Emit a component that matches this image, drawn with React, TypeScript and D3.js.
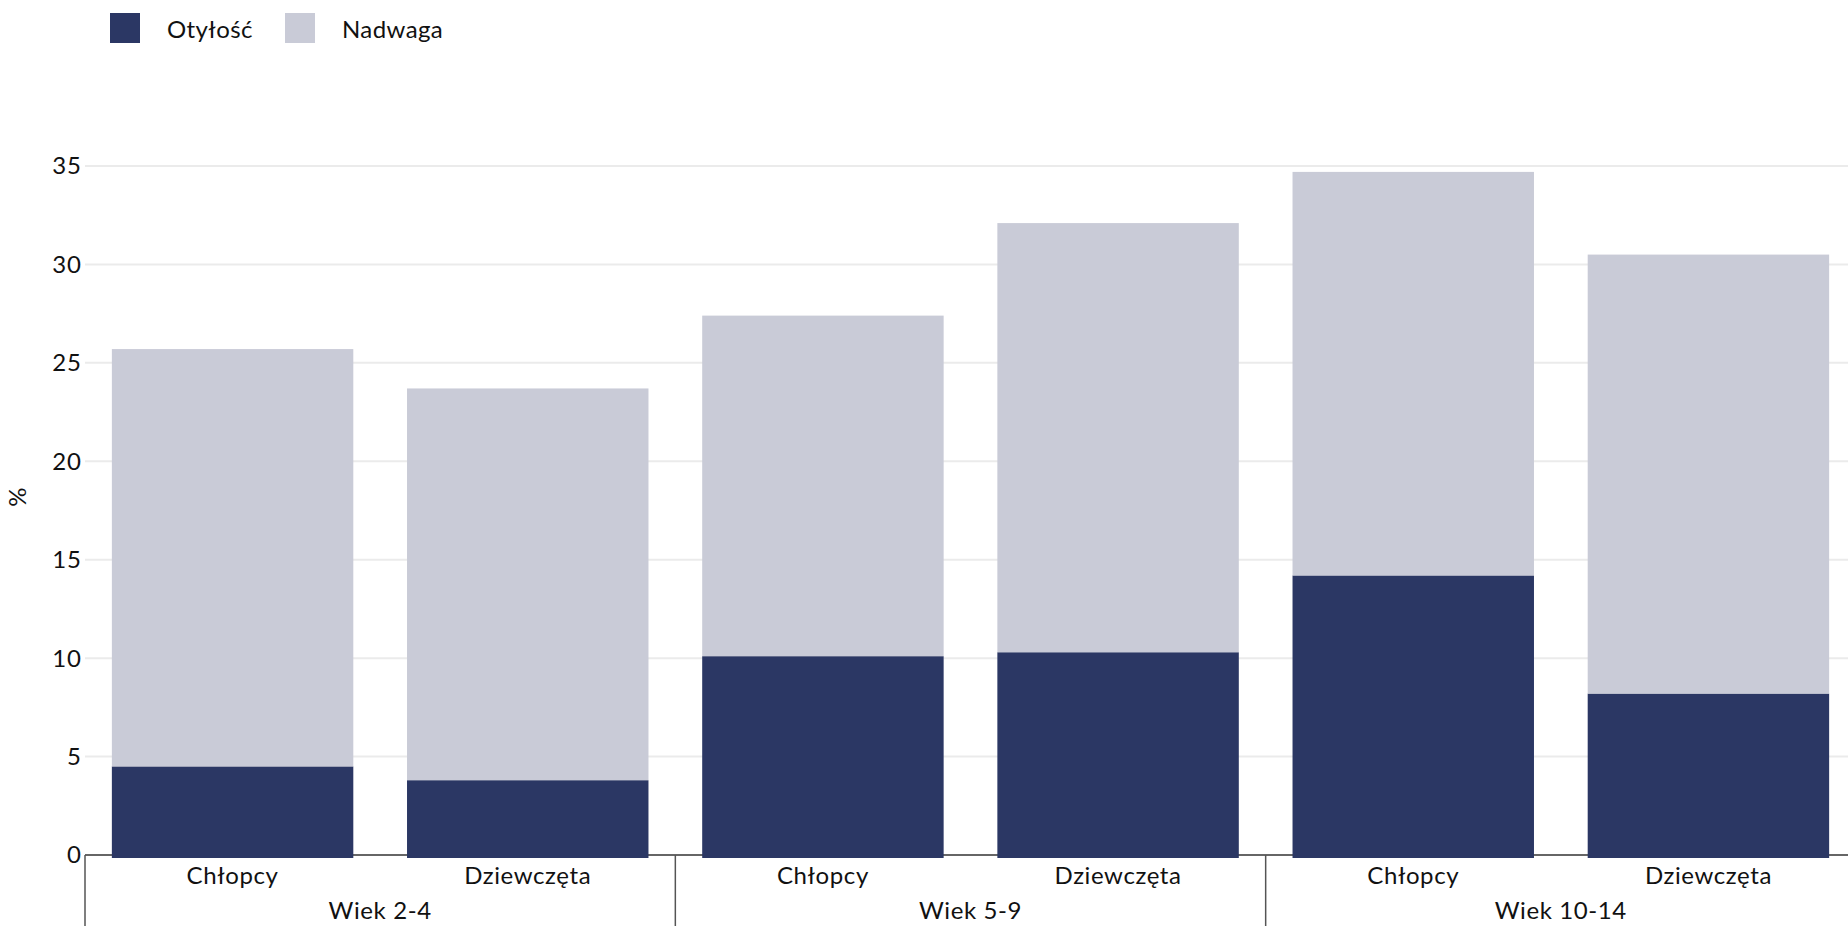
import * as d3 from "d3";
import React from "react";

const groups = ["Wiek 2-4", "Wiek 5-9", "Wiek 10-14"];
const sexes = ["Chłopcy", "Dziewczęta"];
const seriesNames = ["Otyłość", "Nadwaga"];
const seriesColors = ["#2b3764", "#c9cbd7"];
// per bar, in order: group x sex
const otylosc = [4.5, 3.8, 10.1, 10.3, 14.2, 8.2];
const nadwaga = [21.2, 19.9, 17.3, 21.8, 20.5, 22.3];
const yTicks = [0, 5, 10, 15, 20, 25, 30, 35];

const W = 1848;
const H = 931;
const margin = { left: 85, right: -8, top: 166, bottom: 76 };
const FONT = "Lato, 'Open Sans', sans-serif";
const FS = 24;

export default function App() {
  const bars = groups.flatMap((g, gi) =>
    sexes.map((s, si) => ({ key: `${g}|${s}`, group: g, sex: s, i: gi * sexes.length + si }))
  );

  const x = d3
    .scaleBand<string>()
    .domain(bars.map((b) => b.key))
    .range([margin.left, W - margin.right])
    .paddingInner(0.182)
    .paddingOuter(0.091);

  const y = d3
    .scaleLinear()
    .domain([0, 35])
    .range([H - margin.bottom, margin.top]);

  const stackData = bars.map((b) => ({ key: b.key, Otyłość: otylosc[b.i], Nadwaga: nadwaga[b.i] }));
  const stacked = d3.stack<any>().keys(seriesNames)(stackData);

  const y0 = y(0);
  const groupStep = x.step() * sexes.length;
  const groupX = (gi: number) => margin.left + gi * groupStep;

  return (
    <svg
      width={W}
      height={H}
      style={{ position: "absolute", left: 0, top: 0, background: "#fff" }}
      fontFamily={FONT}
    >
      {/* legend */}
      {seriesNames.map((name, i) => (
        <g key={name} transform={`translate(${110 + i * 175},13)`}>
          <rect width={30} height={30} fill={seriesColors[i]} />
          <text x={57} y={25} fontSize={FS} letterSpacing={0.4} fill="#111">
            {name}
          </text>
        </g>
      ))}

      {/* grid */}
      {yTicks.slice(1).map((t) => (
        <line key={t} x1={margin.left} x2={W} y1={y(t)} y2={y(t)} stroke="#ebebeb" strokeWidth={2} />
      ))}
      {yTicks.map((t) => (
        <text key={t} x={82} y={y(t)} dy="0.35em" textAnchor="end" fontSize={FS} letterSpacing={1} fill="#111">
          {t}
        </text>
      ))}
      <text transform={`translate(18,497) rotate(-90)`} textAnchor="middle" dy="0.35em" fontSize={FS} fill="#111">
        %
      </text>

      {/* axis line */}
      <line x1={margin.left} x2={W} y1={y0} y2={y0} stroke="#666" strokeWidth={2} />

      {/* bars */}
      {stacked.map((layer, li) =>
        layer.map((d, bi) => (
          <rect
            key={`${li}-${bi}`}
            x={x(bars[bi].key)}
            width={x.bandwidth()}
            y={y(d[1])}
            height={y(d[0]) - y(d[1]) + (li === 0 ? 3 : 0)}
            fill={seriesColors[li]}
          />
        ))
      )}

      {/* category labels */}
      {bars.map((b) => (
        <text
          key={b.key}
          x={(x(b.key) as number) + x.bandwidth() / 2}
          y={884}
          textAnchor="middle"
          fontSize={FS}
          letterSpacing={0.6}
          fill="#111"
        >
          {b.sex}
        </text>
      ))}
      {groups.map((g, gi) => (
        <g key={g}>
          <line x1={groupX(gi)} x2={groupX(gi)} y1={y0} y2={926} stroke="#555" strokeWidth={1.5} />
          <text
            x={groupX(gi) + groupStep / 2}
            y={919}
            textAnchor="middle"
            fontSize={FS}
            letterSpacing={0.6}
            fill="#111"
          >
            {g}
          </text>
        </g>
      ))}
    </svg>
  );
}
